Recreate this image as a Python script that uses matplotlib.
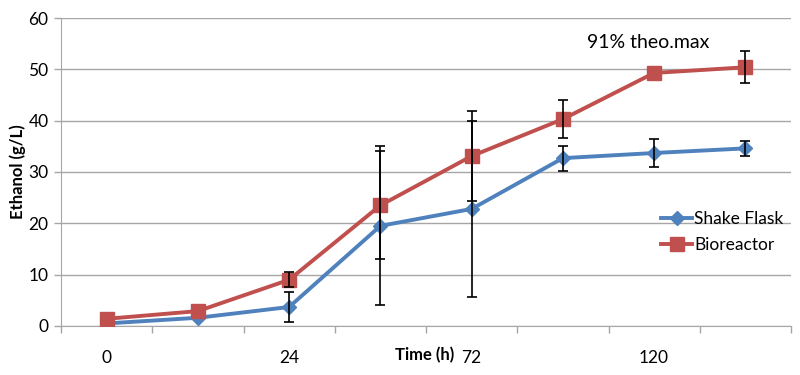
import numpy as np
import matplotlib.pyplot as plt

# category labels (Excel shows every other one)
time_labels = ['0', '12', '24', '48', '72', '96', '120', '144']
shown_labels = ['0', '', '24', '', '72', '', '120', '']

shake_flask = [0.5, 1.6, 3.7, 19.5, 22.8, 32.7, 33.7, 34.6]
shake_err = [0.0, 0.0, 3.0, 15.5, 17.2, 2.45, 2.7, 1.4]
bioreactor = [1.4, 2.9, 9.0, 23.5, 33.1, 40.3, 49.3, 50.4]
bio_err = [0.0, 0.0, 1.5, 10.5, 8.8, 3.7, 0.0, 3.1]

plt.rcParams['font.family'] = ['Lato', 'DejaVu Sans']

fig = plt.figure(figsize=(8, 3.75), dpi=100)
ax = fig.add_axes([0.07625, 0.1307, 0.9125, 0.8213])

x = np.arange(len(time_labels))
blue = '#4F81BD'
red = '#C0504D'

ax.plot(x, shake_flask, color=blue, lw=2.8, marker='D', ms=7.5, label='Shake Flask', zorder=3)
ax.plot(x, bioreactor, color=red, lw=2.8, marker='s', ms=9.5, label='Bioreactor', zorder=3)

# only draw error bars where there is an error
for vals, err in [(shake_flask, shake_err), (bioreactor, bio_err)]:
    vals = np.array(vals)
    err = np.array(err)
    m = err > 0
    ax.errorbar(x[m], vals[m], yerr=err[m], fmt='none', ecolor='black', elinewidth=1.2,
                capsize=3.5, capthick=1.2, zorder=4)

ax.set_xlim(-0.5, len(x) - 0.5)
ax.set_ylim(0, 60)
ax.set_yticks(range(0, 61, 10))
ax.yaxis.grid(True, color='#A6A6A6', lw=1)
ax.set_axisbelow(True)

ax.set_xticks(x)
ax.set_xticklabels(shown_labels, fontsize=12.5)
ax.tick_params(axis='x', length=0, pad=17)
ax.set_xticks(np.arange(-0.5, len(x), 1), minor=True)
ax.tick_params(axis='x', which='minor', length=5, color='#A6A6A6', width=1)
ax.tick_params(axis='y', labelsize=12.5, length=5, color='#A6A6A6', width=1, pad=4)

for side in ['top', 'right']:
    ax.spines[side].set_visible(False)
ax.spines['left'].set_color('#A6A6A6')
ax.spines['bottom'].set_color('#A6A6A6')

ax.set_ylabel('Ethanol (g/L)', fontsize=12, fontweight='bold', labelpad=2)
ax.text(3.49, -5.6, 'Time (h)', fontsize=12, fontweight='bold', ha='center', va='center')

ax.text(5.93, 55.2, '91% theo.max', fontsize=14, ha='center', va='center')

leg = ax.legend(loc='upper left', bbox_to_anchor=(0.81, 0.40), frameon=False,
                fontsize=12.5, handlelength=1.8, handletextpad=0.1, labelspacing=0.55,
                borderpad=0)

fig.savefig('out.png', dpi=100)
